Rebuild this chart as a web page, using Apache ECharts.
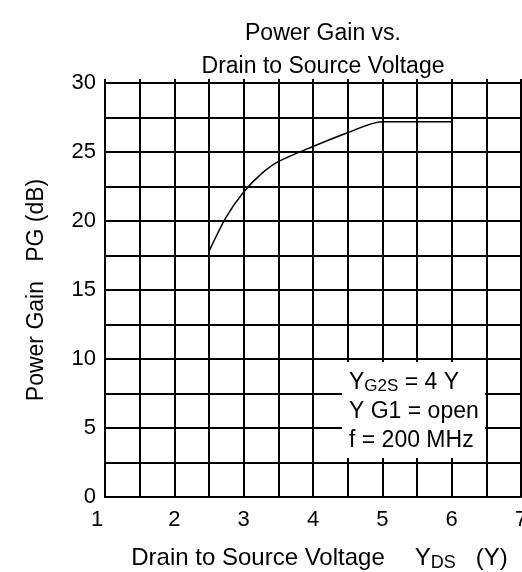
<!DOCTYPE html>
<html><head><meta charset="utf-8">
<script src="https://cdn.jsdelivr.net/npm/echarts@6/dist/echarts.min.js"></script>
<style>html,body{margin:0;padding:0;background:#fff}#c{width:522px;height:572px}</style>
</head><body><div id="c"></div>
<script>
var vds = [2.5, 2.75, 3.0, 3.25, 3.5, 4.0, 4.5, 5.0, 6.0];
var gain = [17.8, 20.3, 22.1, 23.4, 24.3, 25.4, 26.4, 27.2, 27.2];
var xTicks = [1, 2, 3, 4, 5, 6, 7];
var yTicks = [0, 5, 10, 15, 20, 25, 30];

var chart = echarts.init(document.getElementById('c'), null, {renderer: 'canvas'});
var font = 'Liberation Sans, Arial, sans-serif';
chart.setOption({
  animation: false,
  backgroundColor: '#fff',
  title: {
    text: 'Power Gain vs.\nDrain to Source Voltage',
    left: 318, top: 12, textAlign: 'center',
    textStyle: {fontFamily: font, fontSize: 23, fontWeight: 'normal', color: '#000', lineHeight: 33}
  },
  grid: {left: 105, top: 83, right: 1, bottom: 75, containLabel: false, outerBoundsMode: 'none'},
  xAxis: [{
    type: 'value', min: 1, max: 7, interval: 0.5,
    name: '{t|Drain to Source Voltage}{g|}{n|Y}{s|DS}{g2|}{n|(Y)}',
    nameLocation: 'middle', nameGap: 47,
    nameTextStyle: {fontFamily: font, fontSize: 24, color: '#000', padding: [0, 0, 0, 13],
      rich: {
        t: {fontFamily: font, fontSize: 24, color: '#000'},
        g: {width: 30},
        g2: {width: 20},
        n: {fontFamily: font, fontSize: 24, color: '#000'},
        s: {fontFamily: font, fontSize: 18, color: '#000', padding: [10, 0, 0, 0]}
      }},
    axisLine: {lineStyle: {color: '#000', width: 2}},
    axisTick: {show: false},
    splitLine: {show: true, lineStyle: {color: '#000', width: 2}},
    axisLabel: {
      fontFamily: font, fontSize: 22, color: '#000', margin: 12,
      formatter: function (v) {
        if (v === 1) return '{a|1}';
        return xTicks.indexOf(v) >= 0 ? String(v) : '';
      },
      rich: {a: {fontFamily: font, fontSize: 22, color: '#000', padding: [0, 16, 0, 0]}}
    }
  }, {
    type: 'value', min: 1, max: 7, interval: 0.5, position: 'top',
    axisLine: {show: true, lineStyle: {color: '#000', width: 2}},
    axisTick: {show: true, length: 4, lineStyle: {color: '#000', width: 2}},
    axisLabel: {show: false},
    splitLine: {show: false}
  }],
  yAxis: {
    type: 'value', min: 0, max: 30, interval: 2.5,
    name: 'Power Gain   PG (dB)',
    nameLocation: 'middle', nameGap: 57,
    nameTextStyle: {fontFamily: font, fontSize: 23, color: '#000'},
    axisLine: {show: true, lineStyle: {color: '#000', width: 2}},
    axisTick: {show: false},
    splitLine: {show: true, lineStyle: {color: '#000', width: 2}},
    axisLabel: {
      fontFamily: font, fontSize: 22, color: '#000', margin: 9,
      formatter: function (v) { return yTicks.indexOf(v) >= 0 ? String(v) : ''; }
    }
  },
  series: [{
    type: 'line', data: vds.map(function (x, i) { return [x, gain[i]]; }),
    smooth: 0.3, symbol: 'none',
    lineStyle: {color: '#000', width: 1.5}, z: 5
  }],
  graphic: [
    {type: 'rect', shape: {x: 342, y: 362, width: 143, height: 96}, style: {fill: '#fff'}, z: 10},
    {type: 'text', left: 349, top: 368, z: 11,
      style: {text: '{n|Y}{s|G2S}{n| = 4 Y}\n{n|Y G1 = open}\n{n|f = 200 MHz}',
        font: '23px ' + font, fill: '#000', lineHeight: 29,
        rich: {n: {fontSize: 23, fontFamily: font, fill: '#000', lineHeight: 29},
               s: {fontSize: 17, fontFamily: font, fill: '#000', padding: [8, 0, 0, 0], lineHeight: 29}}}}
  ]
});
</script></body></html>
